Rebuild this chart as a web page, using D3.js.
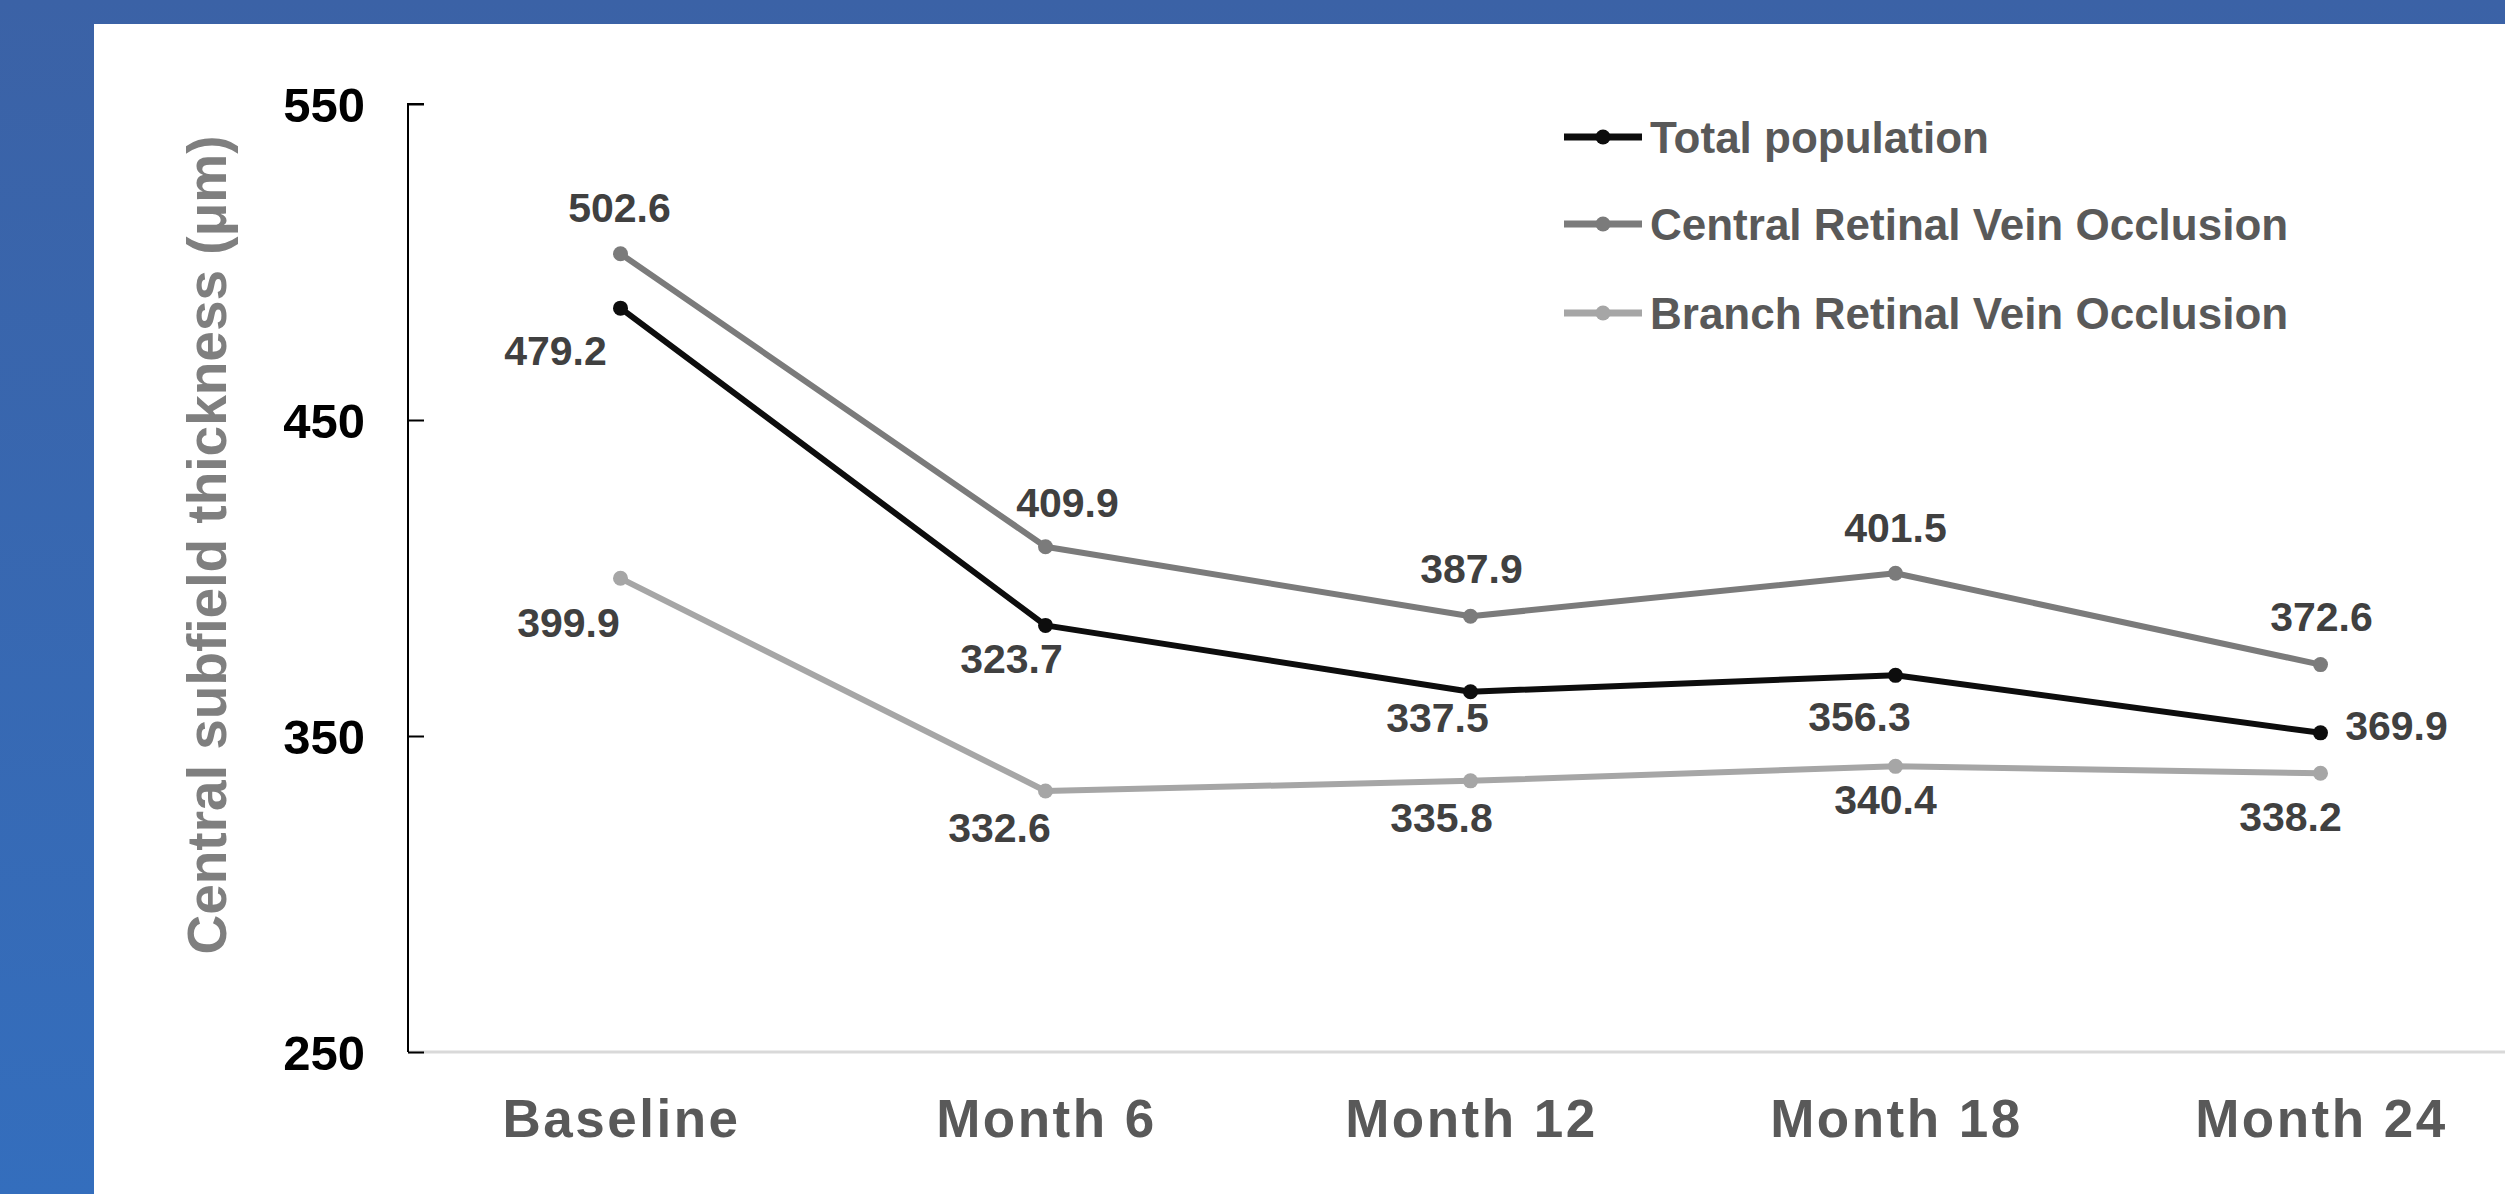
<!DOCTYPE html>
<html>
<head>
<meta charset="utf-8">
<script src="https://cdn.jsdelivr.net/npm/d3@7"></script>
<style>
	html, body { margin: 0; padding: 0; overflow: hidden; }
	svg { display: block; font-family: 'Liberation Sans', Arial, sans-serif; }
</style>
</head>
<body>
<svg id="chart" width="2505" height="1194"></svg>
<script>
const categories = ['Baseline', 'Month 6', 'Month 12', 'Month 18', 'Month 24'];
const seriesNames = ['Total population', 'Central Retinal Vein Occlusion', 'Branch Retinal Vein Occlusion'];
// plotted positions
const totalValues = [485.4, 385.0, 364.0, 369.2, 351.0];
const crvoValues = [502.6, 409.9, 387.9, 401.5, 372.6];
const brvoValues = [399.9, 332.6, 335.8, 340.4, 338.2];
// data labels as printed on the chart
const totalLabels = ['479.2', '323.7', '337.5', '356.3', '369.9'];
const crvoLabels = ['502.6', '409.9', '387.9', '401.5', '372.6'];
const brvoLabels = ['399.9', '332.6', '335.8', '340.4', '338.2'];
const yTicks = [250, 350, 450, 550];

const W = 2505, H = 1194;
const svg = d3.select('#chart');

// background
const defs = svg.append('defs');
const grad = defs.append('linearGradient').attr('id', 'bg').attr('x1', 0).attr('y1', 0).attr('x2', 0).attr('y2', 1);
grad.append('stop').attr('offset', '0%').attr('stop-color', '#3b62a6');
grad.append('stop').attr('offset', '100%').attr('stop-color', '#346ebd');
svg.append('rect').attr('width', W).attr('height', H).attr('fill', 'url(#bg)');
svg.append('rect').attr('x', 94).attr('y', 24).attr('width', W - 94).attr('height', H - 24).attr('fill', '#fff');

const x = d3.scaleBand().domain(categories).range([408, 2533]).padding(0);
const cx = d => x(d) + x.bandwidth() / 2;
const y = d3.scaleLinear().domain([250, 550]).range([1052, 104]);

// x axis line
svg.append('line')
	.attr('x1', 408).attr('x2', W)
	.attr('y1', y(250)).attr('y2', y(250))
	.attr('stroke', '#d9d9d9').attr('stroke-width', 3);

// y axis
const yAxis = svg.append('g')
	.attr('transform', 'translate(408,0)')
	.call(d3.axisRight(y).tickValues(yTicks).tickSize(16).tickFormat(''));
yAxis.select('.domain').attr('stroke', '#000').attr('stroke-width', 2).attr('d', `M0,${y(250)}V${y(550)}H16`);
yAxis.selectAll('.tick line').attr('stroke', '#000').attr('stroke-width', 2);

svg.append('g').selectAll('text')
	.data(yTicks)
	.join('text')
	.attr('x', 365)
	.attr('y', d => y(d))
	.attr('dy', '0.36em')
	.attr('text-anchor', 'end')
	.attr('font-size', 49)
	.attr('font-weight', 'bold')
	.attr('fill', '#000')
	.text(d => d);

// x tick labels
svg.append('g').selectAll('text')
	.data(categories)
	.join('text')
	.attr('x', d => cx(d) + 1)
	.attr('y', 1137)
	.attr('text-anchor', 'middle')
	.attr('font-size', 53)
	.attr('font-weight', 'bold')
	.attr('letter-spacing', 2.5)
	.attr('fill', '#595959')
	.text(d => d);

// y title
svg.append('text')
	.attr('transform', 'translate(206,545) rotate(-90)')
	.attr('text-anchor', 'middle')
	.attr('dy', '0.36em')
	.attr('font-size', 55)
	.attr('font-weight', 'bold')
	.attr('fill', '#7f7f7f')
	.text('Central subfield thickness (μm)');

const series = [
	{name: seriesNames[0], values: totalValues, labels: totalLabels, color: '#0d0d0d',
		offsets: [[-65, 42], [-34, 33], [-33, 25], [-36, 41], [76, -8]]},
	{name: seriesNames[1], values: crvoValues, labels: crvoLabels, color: '#7b7b7b',
		offsets: [[-1, -47], [22, -44], [1, -48], [0, -46], [1, -48]]},
	{name: seriesNames[2], values: brvoValues, labels: brvoLabels, color: '#a6a6a6',
		offsets: [[-52, 44], [-46, 36], [-29, 36], [-10, 33], [-30, 43]]},
];

const line = d3.line().x(d => cx(d.cat)).y(d => y(d.v));
const drawOrder = [2, 1, 0];
drawOrder.forEach(i => {
	const s = series[i];
	const pts = categories.map((c, j) => ({cat: c, v: s.values[j], label: s.labels[j], off: s.offsets[j]}));
	const g = svg.append('g');
	g.append('path')
		.datum(pts)
		.attr('d', line)
		.attr('fill', 'none')
		.attr('stroke', s.color)
		.attr('stroke-width', 6)
		.attr('stroke-linejoin', 'round');
	g.selectAll('circle')
		.data(pts)
		.join('circle')
		.attr('cx', d => cx(d.cat))
		.attr('cy', d => y(d.v))
		.attr('r', 7.5)
		.attr('fill', s.color);
	g.selectAll('text')
		.data(pts)
		.join('text')
		.attr('x', d => cx(d.cat) + d.off[0])
		.attr('y', d => y(d.v) + d.off[1])
		.attr('dy', '0.36em')
		.attr('text-anchor', 'middle')
		.attr('font-size', 41)
		.attr('font-weight', 'bold')
		.attr('fill', '#404040')
		.text(d => d.label);
});

// legend
const legend = svg.append('g').selectAll('g')
	.data(series)
	.join('g')
	.attr('transform', (d, i) => `translate(1564,${[137, 224, 313][i]})`);
legend.append('line')
	.attr('x1', 0).attr('x2', 78)
	.attr('stroke', d => d.color).attr('stroke-width', 7);
legend.append('circle')
	.attr('cx', 39).attr('r', 7.5)
	.attr('fill', d => d.color);
legend.append('text')
	.attr('x', 86)
	.attr('dy', '0.36em')
	.attr('font-size', 44)
	.attr('font-weight', 'bold')
	.attr('fill', '#595959')
	.text(d => d.name);
</script>
</body>
</html>
